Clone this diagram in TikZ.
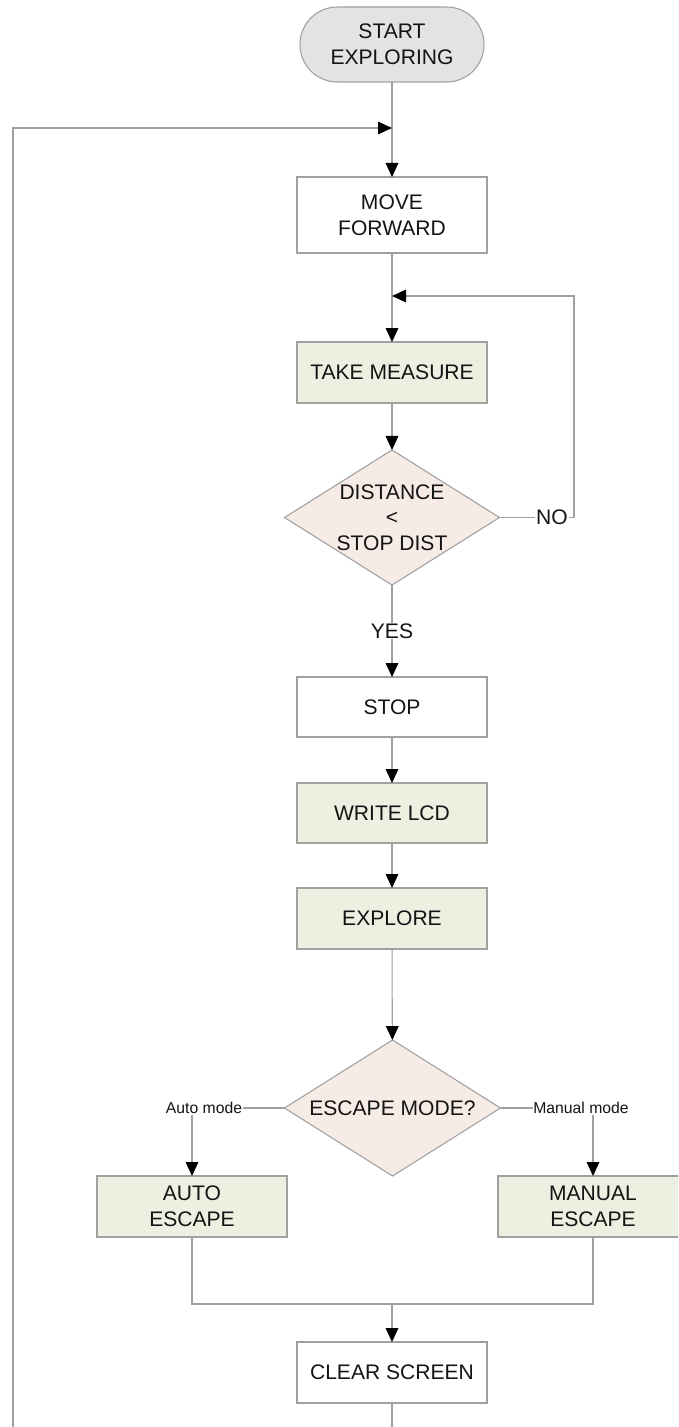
\documentclass[tikz,border=0pt]{standalone}
\usepackage{fontspec}
\setmainfont{Liberation Sans}
\usetikzlibrary{arrows.meta,shapes.geometric}
\definecolor{edgegray}{HTML}{A0A0A0}
\definecolor{startfill}{HTML}{E3E3E3}
\definecolor{actfill}{HTML}{EDEFE1}
\definecolor{decfill}{HTML}{F6ECE5}
\definecolor{ink}{HTML}{141414}

\begin{document}
\begin{tikzpicture}[x=0.75pt,y=-0.75pt,
  every node/.style={text=ink, font=\fontsize{15.8}{19.2}\selectfont, align=center, inner sep=0pt, outer sep=0pt},
  box/.style={draw=edgegray, line width=0.8pt, minimum width=142.5pt, minimum height=45.75pt},
  plainbox/.style={box, fill=white},
  actbox/.style={box, fill=actfill},
  startbox/.style={draw=edgegray, line width=0.8pt, fill=startfill, rounded corners=28pt, minimum width=138pt, minimum height=56.25pt},
  decision/.style={diamond, draw=edgegray, line width=0.8pt, fill=decfill, minimum width=161.25pt, minimum height=101.25pt, inner sep=0pt},
  flow/.style={draw=edgegray, line width=0.8pt},
  arr/.style={flow, -{Triangle[length=10.5pt, width=9.5pt, color=black]}},
  lbl/.style={fill=white, inner sep=0.6pt},
  smalllbl/.style={lbl, font=\fontsize{11.8}{14}\selectfont},
]
\useasboundingbox (0,0) rectangle (678,1427);
\clip (0,0) rectangle (678,1427);

% process steps
\node[startbox] (start) at (392,44.5) {START\\EXPLORING};
\node[plainbox, minimum height=57pt] (move) at (392,215) {MOVE\\FORWARD};
\node[actbox] (take) at (392,372.5) {TAKE MEASURE};
\node[decision, label={[align=center]center:DISTANCE\\<\\STOP DIST}] (d1) at (392,517.5) {};
\node[plainbox, minimum height=45pt] (stop) at (392,707) {STOP};
\node[actbox, minimum height=45pt] (lcd) at (392,813) {WRITE LCD};
\node[actbox] (explore) at (392,918.5) {EXPLORE};
\node[decision, minimum width=162pt, minimum height=102pt, label={center:ESCAPE MODE?}] (d2) at (392.5,1108) {};
\node[actbox] (auto) at (192,1206.5) {AUTO\\ESCAPE};
\node[actbox] (manual) at (593,1206.5) {MANUAL\\ESCAPE};
\node[plainbox] (clear) at (392,1372.5) {CLEAR SCREEN};

% junctions and bends
\coordinate (j0) at (392,128);
\coordinate (j1) at (392,296);
\coordinate (lb) at (13,1427);
\coordinate (exit) at (392,1427);
\coordinate (nr) at (574,517.5);
\coordinate (m) at (392,1304);

% connectors
\draw[arr] (start) -- (move);
\draw[arr] (lb) |- (j0);
\draw[arr] (move) -- (take);
\draw[arr] (d1.east) -- (nr) |- (j1);
\draw[arr] (take) -- (d1);
\draw[arr] (d1) -- node[lbl] {YES} (stop);
\draw[arr] (stop) -- (lcd);
\draw[arr] (lcd) -- (explore);
\draw[arr] (explore) -- (d2);
\draw[arr] (d2.west) -| (auto);
\draw[arr] (d2.east) -| (manual);
\draw[flow] (auto) |- (m) -| (manual);
\draw[arr] (m) -- (clear);
\draw[flow] (clear) -- (exit);

% branch labels
\node[lbl] at (552,517.5) {NO};
\node[smalllbl] at (204,1108) {Auto mode};
\node[smalllbl] at (581,1108) {Manual mode};
\end{tikzpicture}
\end{document}
